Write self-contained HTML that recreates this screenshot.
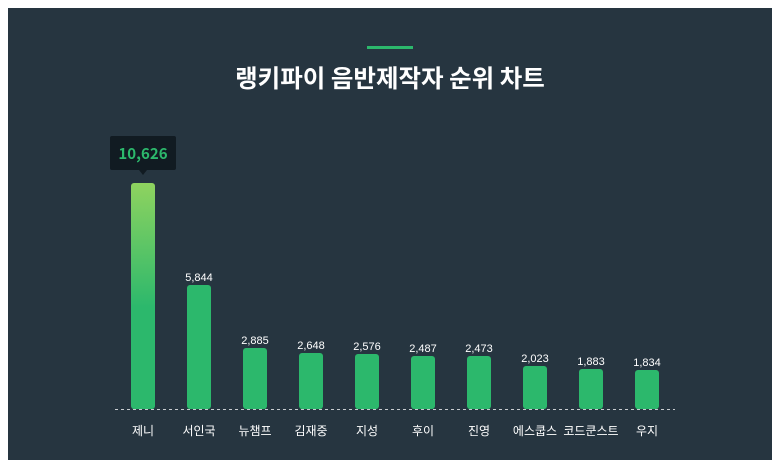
<!DOCTYPE html>
<html><head><meta charset="utf-8"><style>
html,body{margin:0;padding:0;background:#fff;}
body{width:780px;height:468px;position:relative;overflow:hidden;font-family:"Liberation Sans","Noto Sans CJK KR",sans-serif;}
</style></head><body>
<svg width="780" height="468" xmlns="http://www.w3.org/2000/svg" style="position:absolute;left:0;top:0">
<defs>
<linearGradient id="g1" x1="0" y1="0" x2="0" y2="1">
<stop offset="0" stop-color="#8fd35f"/><stop offset="0.55" stop-color="#2cb86c"/><stop offset="1" stop-color="#2cb86c"/>
</linearGradient>
</defs>
<rect x="8" y="8" width="764" height="452" fill="#263540"/>
<rect x="367" y="46" width="46" height="3" fill="#2cb86c"/>
<text x="390" y="87" text-anchor="middle" font-size="24.5" font-weight="bold" fill="#fff" font-family="Noto Sans CJK KR, sans-serif">랭키파이 음반제작자 순위 차트</text>
<line x1="115" y1="409.5" x2="675" y2="409.5" stroke="#c8ccd0" stroke-dasharray="3,3" stroke-width="1"/>
<g font-family="Noto Sans CJK KR, sans-serif">
<rect x="131" y="183" width="24" height="226" rx="3" fill="url(#g1)"/>
<rect x="110" y="136" width="66" height="34" rx="2" fill="#111b22"/>
<path d="M139 170 L143 175 L147 170Z" fill="#111b22"/>
<text x="143" y="159" text-anchor="middle" font-size="15" font-weight="bold" fill="#2cb86c">10,626</text>
</g>
<g fill="#2cb86c">
<rect x="187" y="285" width="24" height="124" rx="3"/>
<rect x="243" y="348" width="24" height="61" rx="3"/>
<rect x="299" y="353" width="24" height="56" rx="3"/>
<rect x="355" y="354" width="24" height="55" rx="3"/>
<rect x="411" y="356" width="24" height="53" rx="3"/>
<rect x="467" y="356" width="24" height="53" rx="3"/>
<rect x="523" y="366" width="24" height="43" rx="3"/>
<rect x="579" y="369" width="24" height="40" rx="3"/>
<rect x="635" y="370" width="24" height="39" rx="3"/>
</g>
<g fill="#fff" font-size="11" text-anchor="middle" font-family="Liberation Sans, sans-serif">
<text x="199" y="281">5,844</text>
<text x="255" y="344">2,885</text>
<text x="311" y="349">2,648</text>
<text x="367" y="350">2,576</text>
<text x="423" y="352">2,487</text>
<text x="479" y="352">2,473</text>
<text x="535" y="362">2,023</text>
<text x="591" y="365">1,883</text>
<text x="647" y="366">1,834</text>
</g>
<g fill="#fff" font-size="12" text-anchor="middle" font-family="Noto Sans CJK KR, sans-serif">
<text x="143" y="435">제니</text>
<text x="199" y="435">서인국</text>
<text x="255" y="435">뉴챔프</text>
<text x="311" y="435">김재중</text>
<text x="367" y="435">지성</text>
<text x="423" y="435">후이</text>
<text x="479" y="435">진영</text>
<text x="535" y="435">에스쿱스</text>
<text x="591" y="435">코드쿤스트</text>
<text x="647" y="435">우지</text>
</g>
</svg>
</body></html>
